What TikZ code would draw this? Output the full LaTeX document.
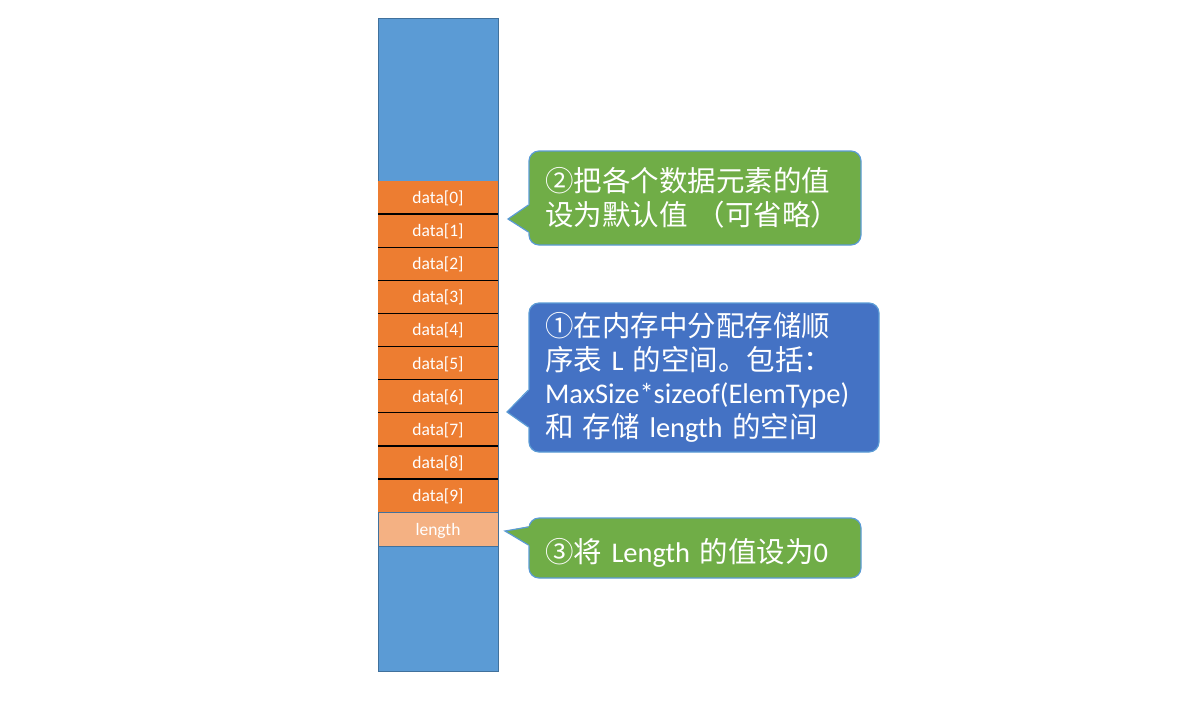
\documentclass[tikz,border=0pt]{standalone}
\usepackage{fontspec}
\setmainfont{Carlito}
\newfontfamily\cjk{Noto Sans CJK SC}
\usetikzlibrary{positioning}
\definecolor{colblue}{HTML}{5B9BD5}
\definecolor{coledge}{HTML}{41719C}
\definecolor{cellorange}{HTML}{ED7D31}
\definecolor{lenorange}{HTML}{F4B183}
\definecolor{notegreen}{HTML}{70AD47}
\definecolor{noteblue}{HTML}{4472C4}
\definecolor{noteedge}{HTML}{5B9BD5}

\begin{document}
\begin{tikzpicture}[x=1pt,y=-1pt,
  cell/.style={minimum width=120pt,minimum height=33.1pt,inner sep=0pt,outer sep=0pt,
    text height=16pt,text depth=4pt,
    fill=cellorange,text=white,font=\fontsize{17.5}{20}\selectfont},
  sepline/.style={line width=1.4pt,black},
  note/.style={rounded corners=10pt,draw=noteedge,line width=1.2pt,text=white,align=left,
    inner xsep=16pt,font=\fontsize{28.5}{33.5}\selectfont},
  tipline/.style={draw=noteedge,line width=1.2pt,line join=miter}]

\useasboundingbox (0,0) rectangle (1191,716);

% --- memory column ----------------------------------------------------
\node[draw=coledge,fill=colblue,line width=1pt,minimum width=120pt,minimum height=653pt,
  inner sep=0pt,anchor=north west] (col) at (378,18) {};

\node[cell,anchor=north] (d0) at (438,181) {data[0]};
\foreach \i in {1,...,9}{
  \pgfmathtruncatemacro{\j}{\i-1}
  \node[cell,below=0pt of d\j] (d\i) {data[\i]};
}
\foreach \i in {0,...,8}
  \draw[sepline] (d\i.south west) -- (d\i.south east);

\node[cell,fill=lenorange,draw=coledge,line width=1pt,minimum height=34pt,
  below=0pt of d9] (len) {length};

% --- note 2: default values -------------------------------------------
\node[note,fill=notegreen,text width=300pt,minimum height=94pt] (fill) at (695,198)
  {{\cjk ②把各个数据元素的值}\\{\cjk 设为默认值 （可省略）}};
\coordinate (fill tip) at (508,219);
\fill[notegreen] (fill tip) -- ([xshift=2pt,yshift=-6pt]fill.west) -- ([xshift=2pt,yshift=-35pt]fill.west) -- cycle;
\draw[tipline] ([yshift=-7pt]fill.west) -- (fill tip) -- ([yshift=-34pt]fill.west);

% --- note 1: allocation -----------------------------------------------
\node[note,fill=noteblue,text width=318pt,minimum height=149pt] (alloc) at (704,377.5)
  {{\cjk ①在内存中分配存储顺}\\{\cjk 序表} L {\cjk 的空间。包括：}\\MaxSize*sizeof(ElemType)\\{\cjk 和} {\cjk 存储} length {\cjk 的空间}};
\coordinate (alloc tip) at (507,412);
\fill[noteblue] (alloc tip) -- ([xshift=2pt,yshift=-11.5pt]alloc.west) -- ([xshift=2pt,yshift=-50.5pt]alloc.west) -- cycle;
\draw[tipline] ([yshift=-12.5pt]alloc.west) -- (alloc tip) -- ([yshift=-49.5pt]alloc.west);

% --- note 3: zero length ----------------------------------------------
\node[note,fill=notegreen,text width=300pt,minimum height=60pt,text height=32pt,text depth=4pt] (zero) at (695,548)
  {{\cjk ③将} Length {\cjk 的值设为}0};
\coordinate (zero tip) at (505,531);
\fill[notegreen] (zero tip) -- ([xshift=2pt,yshift=22pt]zero.west) -- ([xshift=2pt,yshift=2pt]zero.west) -- cycle;
\draw[tipline] ([yshift=21pt]zero.west) -- (zero tip) -- ([yshift=3pt]zero.west);
\end{tikzpicture}
\end{document}
